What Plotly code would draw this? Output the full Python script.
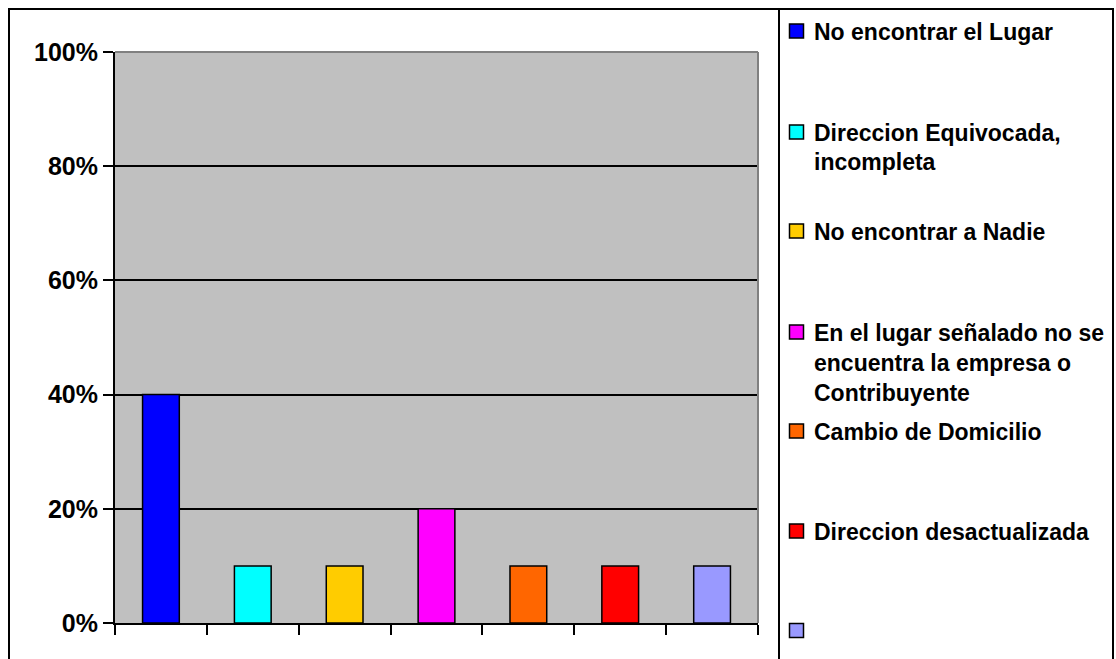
import plotly.graph_objects as go

# ---- data ----
categories = [
    "No encontrar el Lugar",
    "Direccion Equivocada,<br>incompleta",
    "No encontrar a Nadie",
    "En el lugar señalado no se<br>encuentra la empresa o<br>Contribuyente",
    "Cambio de Domicilio",
    "Direccion desactualizada",
    "",
]
values = [0.40, 0.10, 0.10, 0.20, 0.10, 0.10, 0.10]
colors = ["#0000FF", "#00FFFF", "#FFCC00", "#FF00FF", "#FF6600", "#FF0000", "#9999FF"]
y_ticks = [0, 0.2, 0.4, 0.6, 0.8, 1.0]
y_tick_text = ["0%", "20%", "40%", "60%", "80%", "100%"]
legend_line_y = [[31], [132, 161], [231], [332, 362, 392], [431], [531], [630.5]]

W, H = 1116, 659
PL, PR, PT, PB = 115, 758, 52, 623


def px_x(x):
    return (x - PL) / (PR - PL)


def px_y(y):
    return (PB - y) / (PB - PT)


FONT = "Arial, 'Liberation Sans', sans-serif"
n = len(values)

fig = go.Figure(
    go.Bar(
        x=list(range(n)),
        y=values,
        width=0.4,
        marker=dict(color=colors, line=dict(color="black", width=1.5)),
        showlegend=False,
        hoverinfo="skip",
    )
)

shapes = []
annotations = []

# top and right gray borders of plot area
shapes.append(dict(type="line", xref="paper", yref="paper", x0=0, x1=1, y0=1, y1=1,
                   line=dict(color="#808080", width=2), layer="above"))
shapes.append(dict(type="line", xref="paper", yref="paper", x0=1, x1=1, y0=0, y1=1,
                   line=dict(color="#808080", width=2), layer="above"))

# outer chart border
shapes.append(dict(type="rect", xref="paper", yref="paper",
                   x0=px_x(9), x1=px_x(1113), y0=px_y(670), y1=px_y(9),
                   line=dict(color="black", width=2), fillcolor="rgba(0,0,0,0)"))
# legend box left edge
shapes.append(dict(type="line", xref="paper", yref="paper",
                   x0=px_x(779), x1=px_x(779), y0=px_y(670), y1=px_y(9),
                   line=dict(color="black", width=2)))

# manual legend
for i, (lab, col) in enumerate(zip(categories, colors)):
    ys = legend_line_y[i]
    cy = ys[0]
    shapes.append(dict(type="rect", xref="paper", yref="paper",
                       x0=px_x(789.5), x1=px_x(803.5), y0=px_y(cy + 7), y1=px_y(cy - 7),
                       fillcolor=col, line=dict(color="black", width=1.5)))
    lines = lab.split("<br>") if lab else []
    for ln, yy in zip(lines, ys):
        annotations.append(dict(xref="paper", yref="paper", x=px_x(812), y=px_y(yy + 1),
                                xanchor="left", yanchor="middle", showarrow=False,
                                text=ln, font=dict(family=FONT, size=23, color="black",
                                                   weight="bold")))

fig.update_layout(
    width=W,
    height=H,
    margin=dict(l=PL, r=W - PR, t=PT, b=H - PB, pad=0),
    paper_bgcolor="white",
    plot_bgcolor="#C0C0C0",
    bargap=0.6,
    xaxis=dict(
        range=[-0.5, n - 0.5],
        tickvals=[i - 0.5 for i in range(n + 1)],
        showticklabels=False,
        ticks="outside",
        ticklen=10,
        tickwidth=2,
        tickcolor="black",
        showgrid=False,
        zeroline=False,
        showline=True,
        linecolor="black",
        linewidth=2,
        fixedrange=True,
    ),
    yaxis=dict(
        range=[0, 1],
        tickvals=y_ticks,
        ticktext=y_tick_text,
        ticks="outside",
        ticklen=10,
        tickwidth=2,
        tickcolor="black",
        tickfont=dict(family=FONT, size=25, color="black", weight="bold"),
        showgrid=True,
        gridcolor="black",
        gridwidth=1.5,
        zeroline=False,
        showline=True,
        linecolor="black",
        linewidth=2,
        fixedrange=True,
    ),
    shapes=shapes,
    annotations=annotations,
)

fig.write_html("out.html")
